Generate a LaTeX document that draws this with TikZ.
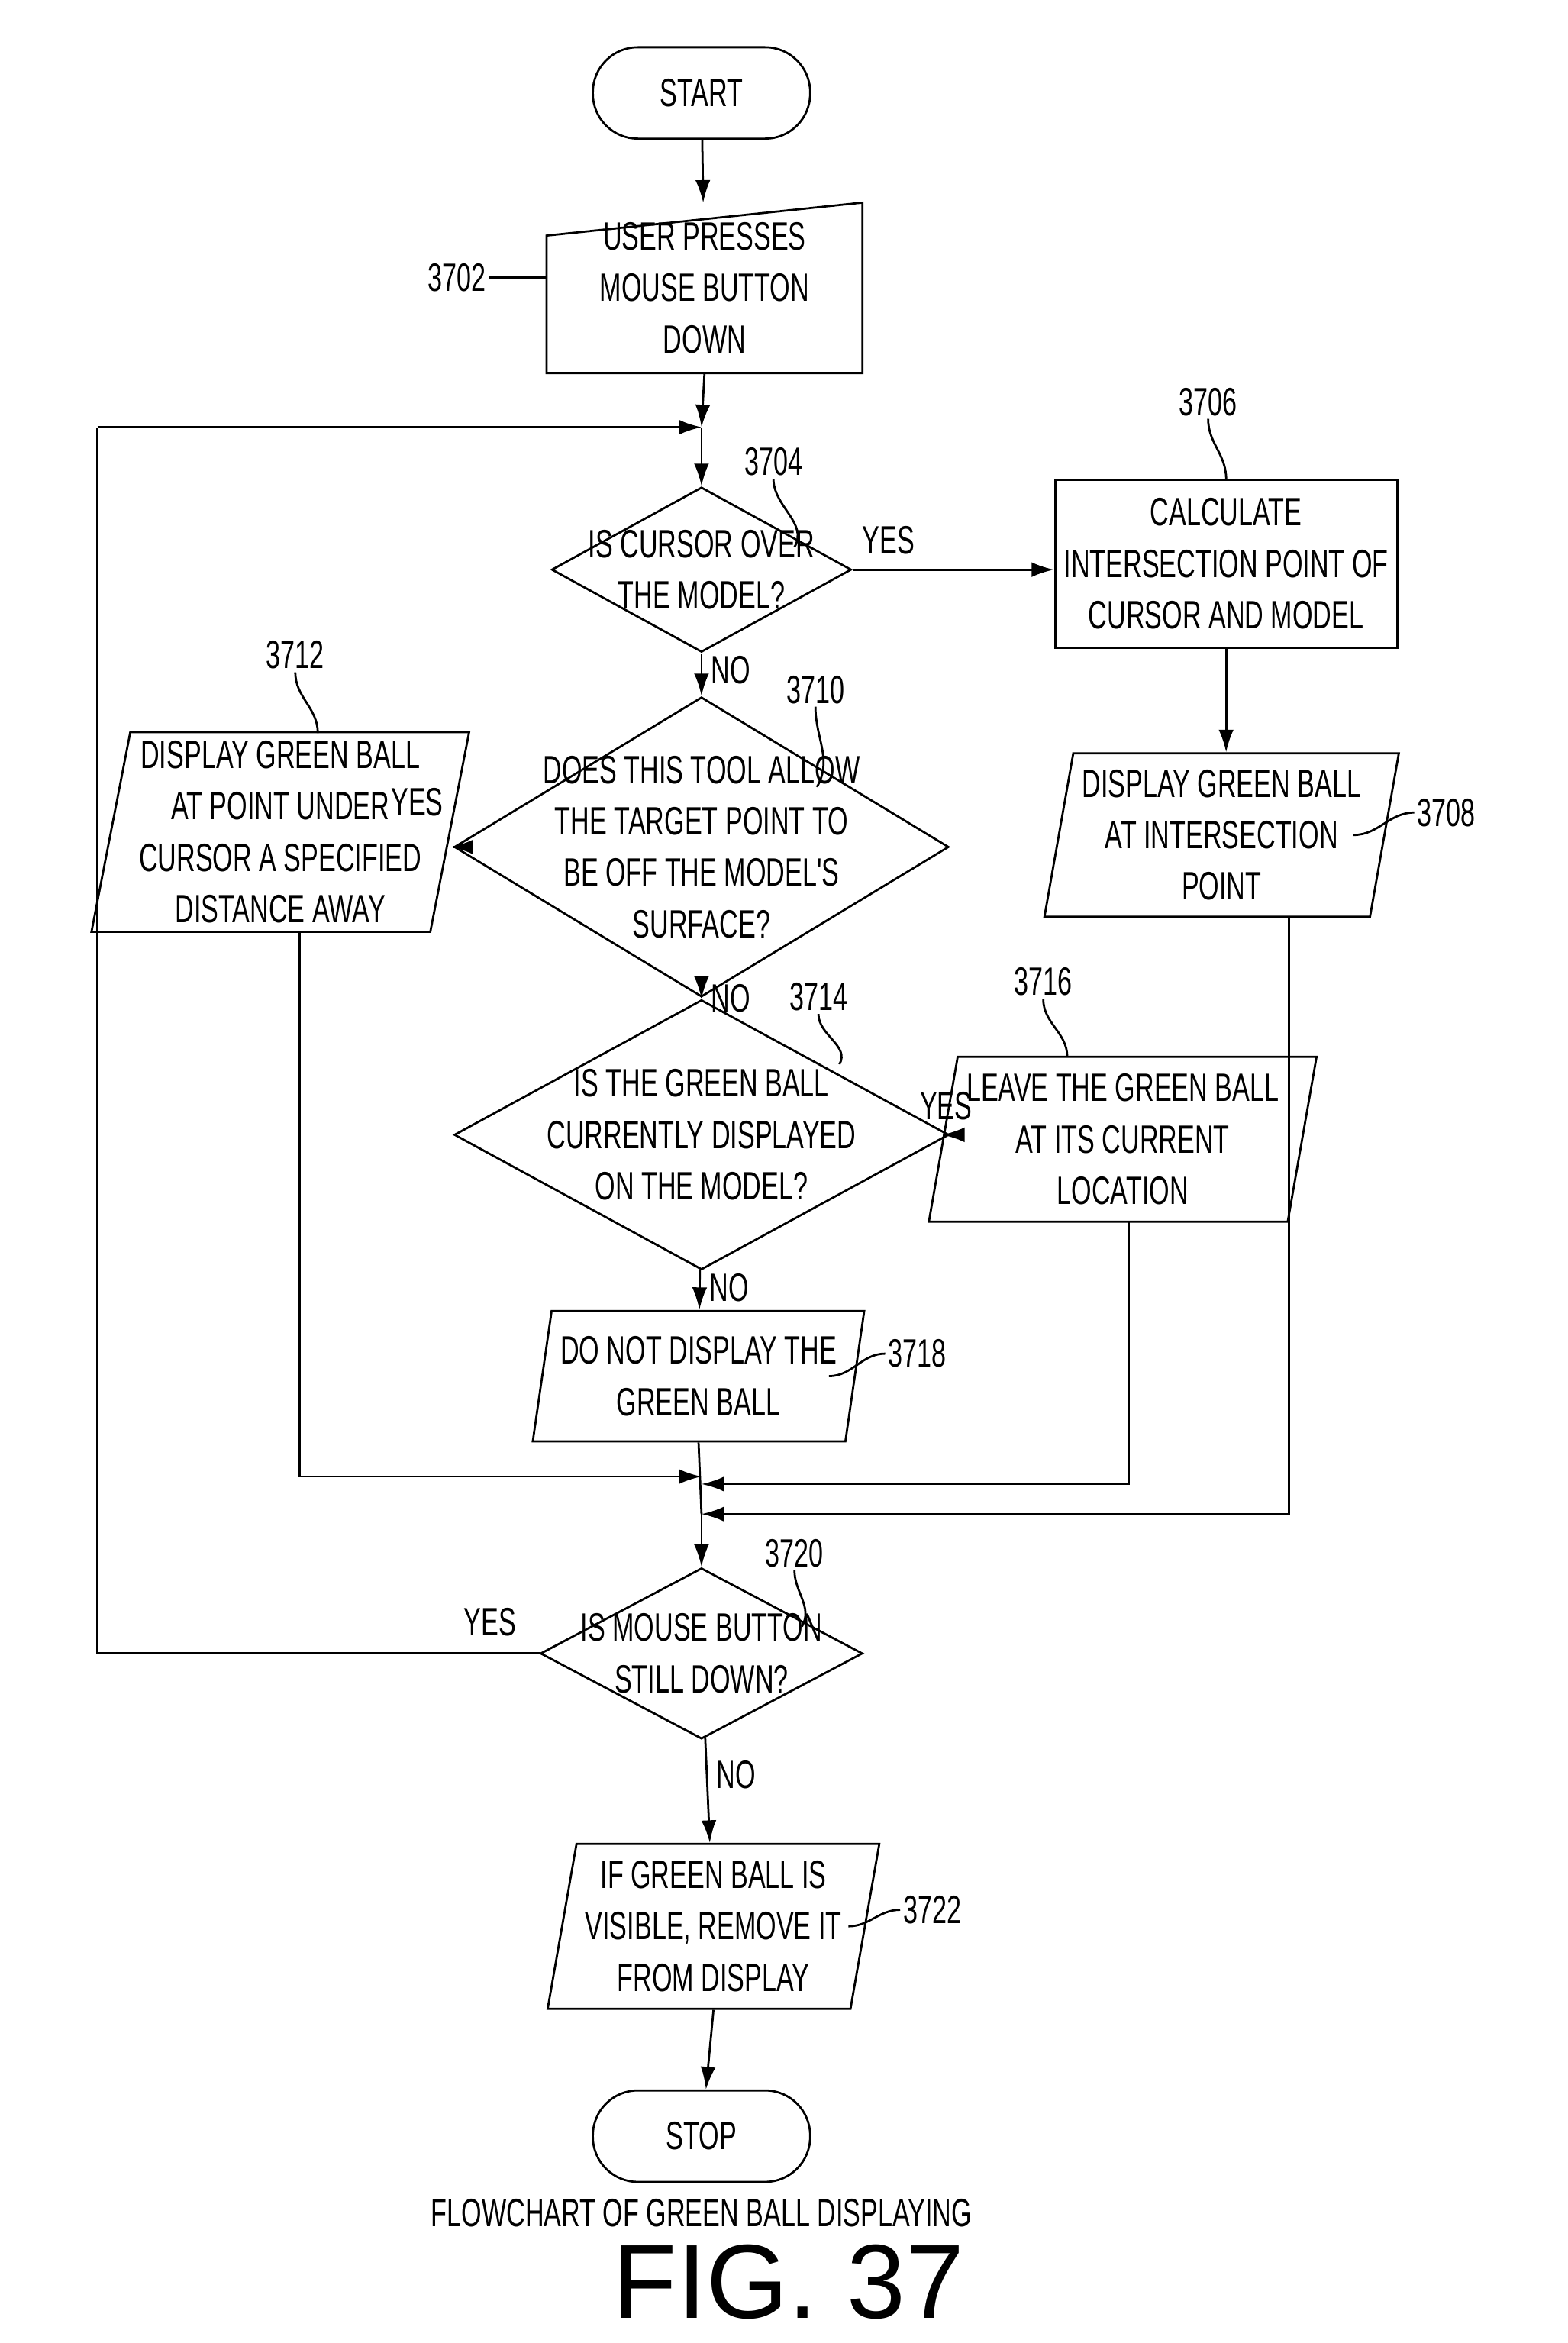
\documentclass[tikz,border=0pt]{standalone}
\usepackage{fontspec}
\setmainfont{Liberation Sans}
\newfontfamily\narrowfont{Liberation Sans}[FakeStretch=0.66]
\newfontfamily\figfont{Liberation Sans}
\usetikzlibrary{arrows.meta,shapes.geometric,calc}
\tikzset{
        term/.style={draw, thick, rounded corners=0.6cm, minimum width=2.9cm, minimum height=1.22cm, align=center},
        proc/.style={draw, thick, minimum width=4.3cm, minimum height=2.24cm, align=center},
        io/.style={draw, thick, trapezium, trapezium left angle=79, trapezium right angle=101, trapezium stretches=true, align=center},
        dia/.style={draw, thick, diamond, inner sep=0pt},
        txt/.style={align=center},
        ref/.style={inner sep=1pt},
        line/.style={thick, -{Latex[length=3mm,width=2mm]}}
    }
\begin{document}
\begin{tikzpicture}[x=0.02cm, y=-0.02cm, font=\narrowfont\fontsize{15}{19.5}\selectfont]
    \useasboundingbox (0,0) rectangle (1046,1563);

    % terminals
    \node[term] (start) at (468,62) {START};
    \node[term] (stop) at (468,1425) {STOP};

    % manual input block
    \node[minimum width=4.2cm, minimum height=2.26cm, align=center] (n3702) at (470,192) {USER PRESSES\\MOUSE BUTTON\\DOWN};
    \draw[thick] (n3702.south west) -- (n3702.south east) -- (n3702.north east)
        -- ($(n3702.north west)+(0,22)$) -- cycle;

    % decisions
    \node[dia, minimum width=4cm, minimum height=2.2cm] (n3704) at (468,380) {};
    \node[txt] (t3704) at (n3704) {IS CURSOR OVER\\THE MODEL?};
    \node[dia, minimum width=6.6cm, minimum height=4cm] (n3710) at (468,565) {};
    \node[txt] (t3710) at (n3710) {DOES THIS TOOL ALLOW\\THE TARGET POINT TO\\BE OFF THE MODEL'S\\SURFACE?};
    \node[dia, minimum width=6.6cm, minimum height=3.6cm] (n3714) at (468,757) {};
    \node[txt] (t3714) at (n3714) {IS THE GREEN BALL\\CURRENTLY DISPLAYED\\ON THE MODEL?};
    \node[dia, minimum width=4.3cm, minimum height=2.28cm] (n3720) at (468,1103) {};
    \node[txt] (t3720) at (n3720) {IS MOUSE BUTTON\\STILL DOWN?};

    % process and display blocks
    \node[proc] (n3706) at (818,376) {CALCULATE\\INTERSECTION POINT OF\\CURSOR AND MODEL};
    \node[io, minimum width=3.8cm, minimum height=2.18cm] (n3708) at (815,557) {DISPLAY GREEN BALL\\AT INTERSECTION\\POINT};
    \node[io, minimum width=3.95cm, minimum height=2.66cm] (n3712) at (187,555) {DISPLAY GREEN BALL\\AT POINT UNDER\\CURSOR A SPECIFIED\\DISTANCE AWAY};
    \node[io, minimum width=3.95cm, minimum height=2.2cm] (n3716) at (749,760) {LEAVE THE GREEN BALL\\AT ITS CURRENT\\LOCATION};
    \node[io, minimum width=3.9cm, minimum height=1.74cm] (n3718) at (466,918) {DO NOT DISPLAY THE\\GREEN BALL};
    \node[io, minimum width=3.95cm, minimum height=2.2cm] (n3722) at (476,1285) {IF GREEN BALL IS\\VISIBLE, REMOVE IT\\FROM DISPLAY};

    % junctions
    \coordinate (loop) at (468,285);
    \coordinate (j1) at (468,985);
    \coordinate (j2) at (468,990);
    \coordinate (j3) at (468,1010);

    % main flow
    \draw[line] (start) -- (n3702);
    \draw[line] (n3702.south) -- (loop);
    \draw[line] (loop) -- (n3704);
    \draw[line] (n3704) -- node[right, pos=0.4] {NO} (n3710);
    \draw[line] (n3710) -- node[right, pos=0.4] {NO} (n3714);
    \draw[line] (n3714) -- node[right, pos=0.45] {NO} (n3718);
    \draw[thick] (n3718.south) -- (j3);
    \draw[line] (j3) -- (n3720);
    \draw[line] (n3720) -- node[right, pos=0.35] {NO} (n3722);
    \draw[line] (n3722.south) -- (stop);

    % yes branches
    \draw[line] (n3704.east) -- node[pos=0, anchor=south west, yshift=2pt] {YES} (n3706.west|-n3704.east);
    \draw[line] (n3706) -- (n3706|-n3708.north);
    \draw[line] (n3710.west) -- node[pos=0.05, anchor=south east, yshift=8pt] {YES} (n3712.east|-n3710.west);
    \draw[line] (n3714.east) -- node[above=2pt] {YES} (n3716.west|-n3714.east);
    \draw[thick] (n3720.west) -- node[pos=0.03, anchor=south east, yshift=3pt] {YES} (65,1103) -- (65,285);
    \draw[line] (65,285) -- (loop);

    % merges
    \draw[line] (200,622) -- (200,985) -- (j1);
    \draw[line] (753,815) -- (753,990) -- (j2);
    \draw[line] (860,612) -- (860,1010) -- (j3);

    % reference numerals
    \node[ref] (r3702) at (305,185) {3702};
    \draw[thick] (r3702.east) to[out=0,in=180] (n3702.west|-r3702);
    \node[ref] (r3704) at (516,308) {3704};
    \draw[thick] (r3704.south) to[out=-90,in=60] (530,365);
    \node[ref] (r3706) at (806,268) {3706};
    \draw[thick] (r3706.south) to[out=-90,in=90] (n3706.north);
    \node[ref] (r3708) at (965,542) {3708};
    \draw[thick] (r3708.west) to[out=180,in=0] (903,557);
    \node[ref] (r3710) at (544,460) {3710};
    \draw[thick] (r3710.south) to[out=-90,in=60] (545,525);
    \node[ref] (r3712) at (197,437) {3712};
    \draw[thick] (r3712.south) to[out=-90,in=90] (212,489);
    \node[ref] (r3714) at (546,665) {3714};
    \draw[thick] (r3714.south) to[out=-90,in=60] (560,710);
    \node[ref] (r3716) at (696,655) {3716};
    \draw[thick] (r3716.south) to[out=-90,in=90] (712,705);
    \node[ref] (r3718) at (612,903) {3718};
    \draw[thick] (r3718.west) to[out=180,in=0] (553,918);
    \node[ref] (r3720) at (530,1036) {3720};
    \draw[thick] (r3720.south) to[out=-90,in=60] (535,1085);
    \node[ref] (r3722) at (622,1274) {3722};
    \draw[thick] (r3722.west) to[out=180,in=0] (566,1285);

    % caption
    \node (cap) at (468,1476) {FLOWCHART OF GREEN BALL DISPLAYING};
    \node[font=\figfont\fontsize{40}{44}\selectfont] (fig) at (526,1522) {FIG. 37};
\end{tikzpicture}
\end{document}
